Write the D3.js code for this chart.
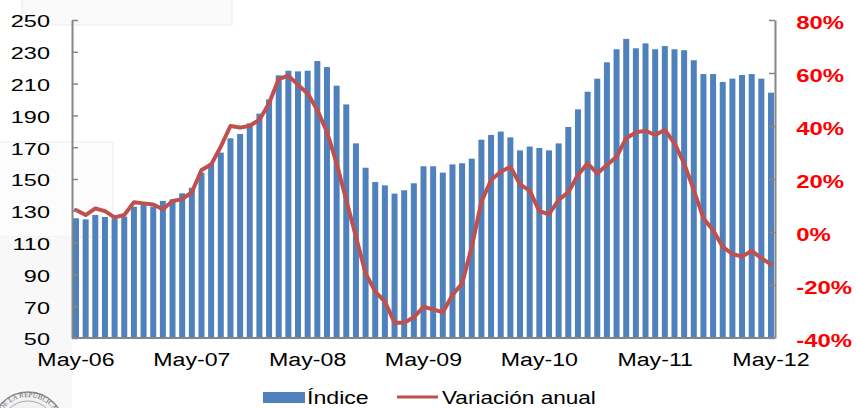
<!DOCTYPE html>
<html>
<head>
<meta charset="utf-8">
<script src="https://cdn.jsdelivr.net/npm/d3@7"></script>
<style>
  body { margin: 0; background: #fff; }
  svg { display: block; font-family: "Liberation Sans", Arial, sans-serif; }
</style>
</head>
<body>
<svg id="chart" width="856" height="408"></svg>
<script>
// monthly categories, May-06 .. May-12
const months = d3.timeMonth.range(new Date(2006, 4, 1), new Date(2012, 5, 1));
const yearLabels = ["May-06", "May-07", "May-08", "May-09", "May-10", "May-11", "May-12"];
const leftTicks = [50, 70, 90, 110, 130, 150, 170, 190, 210, 230, 250];
const rightTicks = [-40, -20, 0, 20, 40, 60, 80];

// Índice (left axis)
const indice = [
  125.3, 124.6, 127.4, 126.1, 125.3, 126.3, 132.6, 133.6, 132.6, 136.2, 137.2, 141.0,
  144.5, 154.0, 159.9, 166.6, 175.6, 178.3, 185.0, 191.1, 200.1, 215.2, 218.1, 217.7,
  218.1, 224.2, 220.4, 208.7, 196.9, 172.4, 157.1, 148.1, 146.0, 140.8, 142.9, 147.3,
  158.0, 158.0, 154.0, 159.2, 159.9, 162.8, 174.7, 177.7, 179.8, 176.2, 168.0, 170.4,
  169.5, 168.0, 172.4, 182.7, 193.8, 204.9, 213.1, 223.4, 231.6, 238.1, 232.2, 235.3,
  231.6, 233.6, 231.6, 231.0, 224.7, 216.0, 216.0, 211.0, 213.1, 215.4, 216.0, 213.1,
  204.3
];

// Variación anual, % (right axis)
const variacion = [
  8.3, 6.4, 8.9, 7.9, 5.5, 6.4, 11.2, 10.8, 10.4, 8.6, 11.7, 12.4,
  15.0, 23.4, 25.5, 32.2, 40.0, 39.4, 40.1, 42.3, 48.6, 57.7, 59.0, 55.5,
  52.3, 46.0, 37.8, 25.9, 12.1, -1.8, -15.6, -22.5, -26.3, -34.2, -34.2, -32.2,
  -28.2, -29.2, -30.3, -23.8, -19.4, -5.6, 11.4, 19.6, 22.7, 24.6, 18.0, 15.6,
  7.9, 6.7, 12.1, 15.0, 21.5, 25.9, 22.1, 25.3, 28.4, 35.4, 37.6, 38.2,
  36.6, 38.5, 33.5, 25.9, 15.8, 5.2, 0.7, -5.6, -8.3, -9.3, -7.1, -9.9,
  -12.2
];

const svg = d3.select("#chart");
const plotLeft = 72, plotRight = 775, plotTop = 20, plotBottom = 338;

// faint slide artefacts behind the chart
svg.append("rect").attr("x", 22).attr("y", -2).attr("width", 210).attr("height", 27)
  .attr("fill", "#fafafa").attr("stroke", "#ececec");
svg.append("rect").attr("x", -2).attr("y", 142).attr("width", 115).attr("height", 95)
  .attr("fill", "#fcfcfc").attr("stroke", "#ececec");
svg.append("rect").attr("x", 0).attr("y", 237).attr("width", 72).attr("height", 171)
  .attr("fill", "#f8f8f8");

const x = d3.scaleBand()
  .domain(d3.range(months.length))
  .range([plotLeft + 1, plotRight - 1])
  .paddingInner(0.38)
  .paddingOuter(0);

const yL = d3.scaleLinear().domain([50, 250]).range([plotBottom, plotTop]);
const yR = d3.scaleLinear().domain([-40, 80]).range([plotBottom, plotTop]);

// bars
svg.append("g")
  .selectAll("rect")
  .data(indice)
  .join("rect")
  .attr("x", (d, i) => x(i))
  .attr("y", d => yL(d))
  .attr("width", x.bandwidth())
  .attr("height", d => yL(50) - yL(d))
  .attr("fill", "#4F81BD");

// line
const line = d3.line()
  .x((d, i) => x(i) + x.bandwidth() / 2)
  .y(d => yR(d));

svg.append("path")
  .datum(variacion)
  .attr("d", line)
  .attr("fill", "none")
  .attr("stroke", "#C0504D")
  .attr("stroke-width", 4)
  .attr("stroke-linejoin", "round")
  .attr("stroke-linecap", "round");

// axes
const axisColor = "#868686";

const gL = svg.append("g")
  .attr("transform", `translate(${plotLeft},0)`)
  .call(d3.axisLeft(yL).tickValues(leftTicks).tickSizeInner(-6).tickSizeOuter(0).tickPadding(16));

const gR = svg.append("g")
  .attr("transform", `translate(${plotRight},0)`)
  .call(d3.axisRight(yR).tickValues(rightTicks).tickSizeInner(-6).tickSizeOuter(0)
    .tickPadding(16).tickFormat(d => d + "%"));

const tickIdx = d3.range(0, months.length, 12);
const gB = svg.append("g")
  .attr("transform", `translate(0,${plotBottom})`)
  .call(d3.axisBottom(x).tickValues(tickIdx).tickSize(0).tickPadding(15)
    .tickFormat((d, i) => yearLabels[i]));

[gL, gR, gB].forEach(g => {
  g.select(".domain").attr("stroke", axisColor).attr("stroke-width", 2);
  g.selectAll(".tick line").attr("stroke", axisColor).attr("stroke-width", 1.5);
});
gB.select(".domain").attr("d", `M${plotLeft},0H${plotRight}`);

gL.selectAll("text")
  .attr("font-size", 17).attr("fill", "#000").attr("dy", "0.4em")
  .attr("transform", "scale(1.38,1)");

gR.selectAll("text")
  .attr("font-size", 18).attr("font-weight", "bold").attr("fill", "#FF0000").attr("dy", "0.46em")
  .attr("transform", "scale(1.33,1)");

gB.selectAll("text")
  .attr("font-size", 19).attr("fill", "#000")
  .attr("transform", "scale(1.22,1)");

// legend
const lg = svg.append("g");
lg.append("rect").attr("x", 263).attr("y", 392).attr("width", 42).attr("height", 11)
  .attr("fill", "#4F81BD");
lg.append("text").attr("transform", "translate(307,403.5) scale(1.25,1)")
  .attr("font-size", 18.5).text("Índice");
lg.append("line").attr("x1", 397).attr("x2", 438).attr("y1", 397).attr("y2", 397)
  .attr("stroke", "#C0504D").attr("stroke-width", 3);
lg.append("text").attr("transform", "translate(442,403.5) scale(1.22,1)")
  .attr("font-size", 18.5).text("Variación anual");

// partial seal in the bottom-left corner
const seal = svg.append("g").attr("transform", "translate(28,428)");
seal.append("circle").attr("r", 36).attr("fill", "#f2f2f2").attr("stroke", "#8a8a8a").attr("stroke-width", 1.5);
seal.append("circle").attr("r", 27).attr("fill", "none").attr("stroke", "#aaa").attr("stroke-width", 1);
seal.append("path").attr("id", "sealArc").attr("d", "M-31,0A31,31 0 0 1 31,0").attr("fill", "none");
seal.append("text").attr("font-size", 7).attr("font-family", "Liberation Serif, serif").attr("fill", "#666")
  .append("textPath").attr("href", "#sealArc").attr("startOffset", "50%").attr("text-anchor", "middle")
  .text("DE LA REPÚBLICA");
</script>
</body>
</html>
